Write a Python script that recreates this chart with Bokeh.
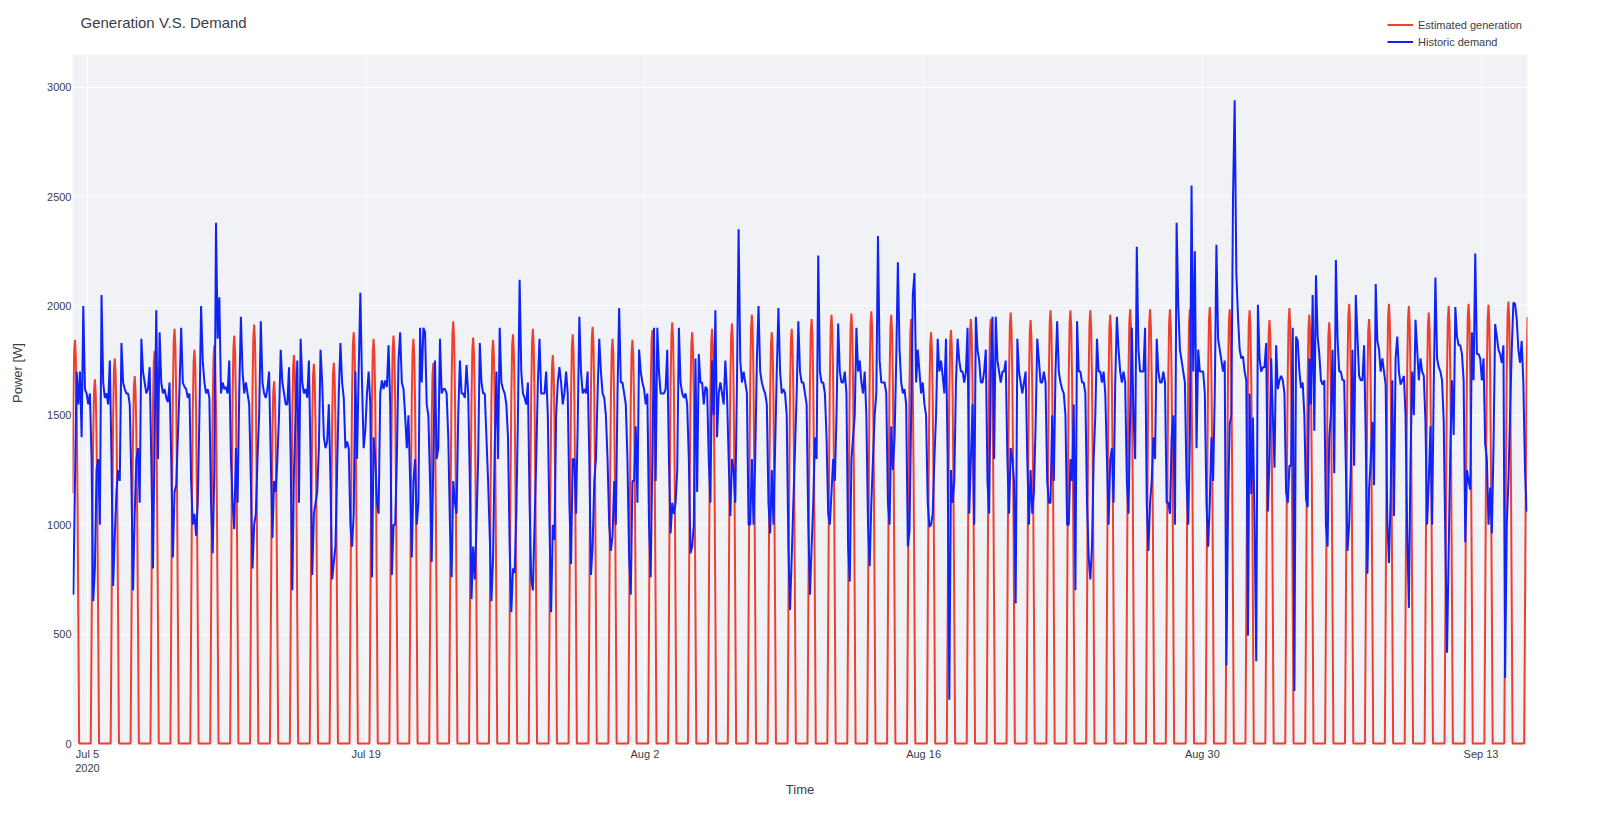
from datetime import datetime, timedelta
from bokeh.plotting import figure
from bokeh.models import (Range1d, FixedTicker, DatetimeTickFormatter, Legend,
                          LegendItem, ColumnDataSource, BoxAnnotation, Label)
from bokeh.embed import file_html
from bokeh.resources import INLINE

# ---------------- data ----------------
title_text = "Generation V.S. Demand"
x_label = "Time"
y_label = "Power [W]"
series_names = ["Estimated generation", "Historic demand"]

series_start = datetime(2020, 7, 4, 6, 0)
series_end = datetime(2020, 9, 15, 8, 0)
day0 = datetime(2020, 7, 4)
gen_peak_hour = 9

# daily peak of the estimated generation, Jul 4 .. Sep 15
gen_peak_w = [
    1845, 1665, 1760, 1680, 1795, 1895, 1800, 1820, 1865, 1915, 1655, 1775, 1735, 1740, 1880,
    1850, 1865, 1850, 1740, 1930, 1855, 1845, 1870, 1895, 1775, 1870, 1905, 1850, 1845,
    1890, 1925, 1880, 1895, 1920, 1960, 1880, 1895, 1940, 1960, 1965, 1975, 1960, 1940, 1880,
    1890, 1940, 1940, 1970, 1935, 1980, 1980, 1980, 1960, 1985, 1985, 1985, 1985, 1995,
    1985, 1980, 1935, 1990, 1960, 1925, 2010, 1940, 2010, 2000, 1970, 2000, 2010, 2005, 2020,
    2010,
]
# hourly generation relative to the daily peak, from 5 h before to 5 h after it
gen_shape = [0.0, 0.30, 0.62, 0.85, 0.97, 1.0, 0.96, 0.84, 0.62, 0.32, 0.0]

# historic demand every 2 hours from Jul 4 07:00 (one row per day)
demand_start = datetime(2020, 7, 4, 7, 0)
demand_step_h = 2
demand_w = [
    680, 1200, 1700, 1550, 1700, 1400, 2000, 1620, 1600, 1550, 1600, 1300,   # Jul 4
    650, 800, 1250, 1300, 1000, 2050, 1650, 1580, 1600, 1550, 1750, 1300,
    720, 950, 1150, 1250, 1200, 1830, 1650, 1620, 1600, 1600, 1550, 1200,
    700, 1050, 1300, 1350, 1100, 1850, 1700, 1650, 1600, 1620, 1720, 1300,
    800, 1400, 1980, 1300, 1880, 1650, 1600, 1620, 1580, 1560, 1650, 1300,
    850, 1150, 1180, 1400, 1620, 1900, 1650, 1630, 1620, 1580, 1600, 1200,
    1000, 1050, 950, 1100, 1500, 2000, 1750, 1650, 1600, 1620, 1580, 1100,  # Jul 10
    870, 1250, 2380, 1850, 2040, 1600, 1650, 1620, 1630, 1600, 1750, 1300,
    1100, 980, 1350, 1100, 1600, 1950, 1700, 1600, 1650, 1600, 1550, 1200,
    800, 1000, 1050, 1300, 1500, 1930, 1650, 1600, 1580, 1620, 1700, 1300,
    940, 1200, 1150, 1300, 1500, 1800, 1650, 1600, 1550, 1550, 1720, 1300,
    700, 1250, 1500, 1750, 1100, 1850, 1650, 1600, 1620, 1580, 1750, 1300,
    770, 1050, 1100, 1150, 1350, 1800, 1650, 1400, 1350, 1380, 1550, 1200,
    750, 830, 900, 1250, 1600, 1830, 1650, 1580, 1350, 1380, 1350, 1000,
    900, 1050, 1700, 1300, 1700, 2060, 1650, 1350, 1430, 1600, 1700, 1550,  # Jul 18
    760, 1400, 1300, 1100, 1050, 1600, 1660, 1620, 1660, 1630, 1820, 1550,
    770, 1000, 1000, 1300, 1750, 1880, 1650, 1620, 1500, 1350, 1500, 1200,
    850, 1200, 1300, 1000, 1100, 1900, 1650, 1900, 1880, 1550, 1500, 1200,
    830, 1300, 1750, 1300, 1350, 1850, 1600, 1620, 1620, 1600, 1400, 1000,
    760, 1200, 1100, 1050, 1500, 1750, 1600, 1600, 1580, 1730, 1600, 1200,
    660, 900, 750, 1000, 1300, 1830, 1650, 1600, 1600, 1400, 1200, 950,
    650, 850, 1350, 1700, 1300, 1900, 1650, 1620, 1600, 1550, 1400, 900,
    600, 800, 780, 1050, 1500, 2120, 1700, 1600, 1580, 1550, 1650, 1100,    # Jul 26
    750, 700, 1000, 1300, 1650, 1850, 1600, 1600, 1600, 1700, 1500, 1000,
    600, 1000, 930, 1500, 1650, 1720, 1650, 1550, 1600, 1700, 1600, 1100,
    820, 1300, 1300, 1050, 1450, 1950, 1700, 1600, 1620, 1600, 1700, 1300,
    770, 900, 1200, 1300, 1600, 1850, 1700, 1600, 1580, 1500, 1300, 1000,
    880, 950, 1200, 1000, 1600, 1990, 1650, 1650, 1600, 1550, 1300, 850,
    680, 1200, 1200, 1450, 1100, 1800, 1700, 1650, 1620, 1550, 1600, 1000,  # Aug 1
    760, 1300, 1900, 1200, 1900, 1700, 1600, 1600, 1600, 1620, 1800, 1300,
    960, 1100, 1050, 1100, 1250, 1900, 1650, 1600, 1580, 1600, 1550, 1300,
    870, 900, 1000, 1760, 1150, 1780, 1650, 1650, 1550, 1630, 1620, 1300,
    1100, 1750, 1500, 1980, 1400, 1600, 1650, 1600, 1550, 1750, 1600, 1300,
    1040, 1300, 1250, 1100, 1650, 2350, 1750, 1650, 1700, 1650, 1600, 1000,
    1000, 1300, 1000, 1300, 1750, 2000, 1700, 1650, 1620, 1600, 1550, 1100,
    960, 1250, 1000, 1350, 1700, 1990, 1700, 1600, 1620, 1600, 1500, 900,
    610, 850, 1100, 1350, 1600, 1930, 1700, 1650, 1650, 1600, 1550, 1000,
    680, 900, 1100, 1400, 1300, 2230, 1700, 1650, 1650, 1600, 1400, 1050,   # Aug 10
    1000, 1150, 1300, 1200, 1500, 1920, 1700, 1650, 1650, 1700, 1600, 900,
    740, 1300, 1400, 1500, 1900, 1700, 1750, 1650, 1600, 1700, 1500, 1000,
    810, 1100, 1300, 1500, 1600, 2320, 1750, 1650, 1650, 1650, 1600, 1100,
    1000, 1450, 1250, 1400, 1750, 2200, 1800, 1650, 1600, 1620, 1550, 900,
    970, 1500, 2050, 2150, 1650, 1800, 1700, 1600, 1650, 1550, 1500, 1100,
    990, 1000, 1050, 1300, 1500, 1850, 1700, 1750, 1680, 1600, 1850, 1300,
    200, 1250, 1100, 1200, 1650, 1850, 1750, 1700, 1700, 1650, 1700, 1900,  # Aug 17
    1050, 1300, 1550, 1000, 1950, 1800, 1750, 1650, 1650, 1700, 1800, 1200,
    1050, 1700, 1950, 1300, 1950, 1750, 1700, 1650, 1700, 1700, 1750, 1300,
    1050, 1350, 1300, 1200, 640, 1850, 1700, 1650, 1600, 1650, 1700, 1300,
    1000, 1250, 1050, 1150, 1450, 1850, 1750, 1650, 1650, 1700, 1650, 1200,
    1100, 1100, 1500, 1200, 1700, 1930, 1700, 1650, 1620, 1600, 1500, 1000,
    1000, 1300, 1200, 1550, 700, 1930, 1700, 1700, 1650, 1650, 1600, 1100,
    850, 750, 900, 1300, 1500, 1850, 1700, 1700, 1650, 1700, 1600, 1300,
    1000, 1300, 1350, 1100, 1650, 1950, 1800, 1700, 1650, 1700, 1650, 1200,
    1050, 1500, 1900, 1500, 1300, 2270, 1800, 1700, 1700, 1700, 1900, 1100,  # Aug 26
    880, 1100, 1200, 1400, 1300, 1850, 1700, 1650, 1650, 1700, 1650, 1100,
    1100, 1050, 1400, 1500, 1000, 2380, 2000, 1800, 1750, 1700, 1650, 1200,
    1000, 1400, 2550, 1700, 2250, 1350, 1800, 1700, 1700, 1700, 1600, 1100,
    900, 1100, 1400, 1200, 1600, 2280, 1850, 1800, 1750, 1700, 1750, 357,
    1080, 1460, 1500, 2500, 2940, 2150, 1950, 1800, 1760, 1770, 1700, 1660,  # Aug 31
    493, 1600, 1140, 1490, 1000, 376, 2005, 1760, 1700, 1720, 1720, 1830,
    1060, 1300, 1760, 1500, 1260, 1820, 1620, 1660, 1680, 1660, 1600, 1150,
    1100, 1270, 1270, 1900, 240, 1860, 1840, 1700, 1625, 1650, 1500, 1120,
    1080, 1760, 1550, 2050, 1430, 2140, 1860, 1780, 1660, 1640, 1660, 1000,
    900, 1400, 1500, 1800, 1235, 2210, 1850, 1700, 1700, 1660, 1660, 1270,
    880, 1000, 1250, 1800, 1270, 2050, 1860, 1680, 1660, 1660, 1820, 1400,
    776, 1160, 1300, 1470, 1180, 2100, 1840, 1800, 1700, 1760, 1700, 1640,
    1020, 825, 1120, 1660, 1040, 1760, 1860, 1700, 1640, 1660, 1680, 1500,  # Sep 8
    960, 620, 1300, 1700, 1500, 1937, 1800, 1660, 1760, 1700, 1680, 1470,
    1000, 1200, 1450, 1000, 1640, 2130, 1760, 1720, 1700, 1660, 1470, 920,
    415, 880, 1350, 1660, 1410, 1995, 1860, 1820, 1820, 1780, 1660, 920,
    1250, 1200, 1160, 1880, 1660, 2240, 1780, 1780, 1760, 1660, 1760, 1370,
    1300, 1000, 1170, 960, 1350, 1917, 1860, 1800, 1780, 1740, 1820, 300,
    1000, 1200, 1500, 1800, 2015, 2010, 1940, 1800, 1740, 1840, 1650, 1250,  # Sep 14
    1060,
]

x_tick_dates = [datetime(2020, 7, 5), datetime(2020, 7, 19), datetime(2020, 8, 2),
                datetime(2020, 8, 16), datetime(2020, 8, 30), datetime(2020, 9, 13)]
y_ticks = [0, 500, 1000, 1500, 2000, 2500, 3000]

# ---------------- build series ----------------
gen_t, gen_v = [], []
t = series_start
while t <= series_end:
    d = (t - day0).days
    off = t.hour - gen_peak_hour
    if -5 <= off <= 5:
        v = gen_peak_w[d] * gen_shape[off + 5]
    else:
        v = 0.0
    gen_t.append(t)
    gen_v.append(v)
    t += timedelta(hours=1)

dem_t = [demand_start + timedelta(hours=demand_step_h * i) for i in range(len(demand_w))]

epoch = datetime(1970, 1, 1)
x_ticks_ms = [(d - epoch).total_seconds() * 1000.0 for d in x_tick_dates]

FONT = "Liberation Sans"
TXT = "#3b3d46"
PLOT_BG = "#F0F2F6"

# frame spans from the top of the canvas; the grey plot area is a box
Y_BOTTOM, Y_TOP, Y_BG_TOP = -9.1, 3396, 3149

p = figure(width=1592, height=809, x_axis_type="datetime",
           output_backend="svg", toolbar_location=None, title_location=None,
           x_range=Range1d(series_start, series_end),
           y_range=Range1d(Y_BOTTOM, Y_TOP),
           min_border_left=72, min_border_right=65, min_border_top=0,
           min_border_bottom=64, background_fill_color="white",
           border_fill_color="white", outline_line_color=None)

p.add_layout(BoxAnnotation(top=Y_BG_TOP, fill_color=PLOT_BG, fill_alpha=1.0,
                           line_color=None, level="image"))

src_g = ColumnDataSource(dict(t=gen_t, v=gen_v))
src_d = ColumnDataSource(dict(t=dem_t, v=demand_w))
r_g = p.line("t", "v", source=src_g, line_color="#EF3F2F", line_width=2)
r_d = p.line("t", "v", source=src_d, line_color="#1022F6", line_width=2)

# axes
for ax in (p.xaxis[0], p.yaxis[0]):
    ax.axis_line_color = None
    ax.major_tick_line_color = None
    ax.minor_tick_line_color = None
    ax.major_label_text_font = FONT
    ax.major_label_text_font_size = "11px"
    ax.major_label_text_color = TXT
    ax.axis_label_text_font = FONT
    ax.axis_label_text_font_size = "13px"
    ax.axis_label_text_font_style = "normal"
    ax.axis_label_text_color = TXT

p.xaxis.ticker = FixedTicker(ticks=x_ticks_ms)
p.xaxis.formatter = DatetimeTickFormatter(
    days="%b %-d", months="%b %-d", hours="%b %-d",
    context=DatetimeTickFormatter(days="%Y", months="%Y", hours="%Y"),
    context_which="start", context_location="below")
p.xaxis.axis_label = x_label
p.xaxis.major_label_standoff = -4
p.xaxis.axis_label_standoff = 5

p.yaxis.ticker = FixedTicker(ticks=y_ticks)
p.yaxis.axis_label = y_label
p.yaxis.major_label_standoff = -5
p.yaxis.axis_label_standoff = 19

p.xgrid.ticker = FixedTicker(ticks=x_ticks_ms)
p.xgrid.grid_line_color = "white"
p.xgrid.grid_line_width = 1
p.ygrid.ticker = FixedTicker(ticks=y_ticks)
p.ygrid.grid_line_color = "white"
p.ygrid.grid_line_width = 1

# title (drawn inside the tall frame, above the grey plot area)
p.add_layout(Label(x=8, y=723, x_units="screen", y_units="screen",
                   text=title_text, text_font=FONT, text_font_size="15px",
                   text_color=TXT, text_baseline="middle", text_align="left"))

legend = Legend(items=[LegendItem(label=series_names[0], renderers=[r_g]),
                       LegendItem(label=series_names[1], renderers=[r_d])],
                location=(1315, 695), orientation="vertical",
                background_fill_alpha=0, border_line_color=None,
                label_text_font=FONT, label_text_font_size="11px",
                label_text_color=TXT, glyph_width=26, glyph_height=17,
                label_height=17, spacing=0, padding=0, margin=0,
                label_standoff=5)
p.add_layout(legend)

open("out.html", "w").write(file_html(p, INLINE))
